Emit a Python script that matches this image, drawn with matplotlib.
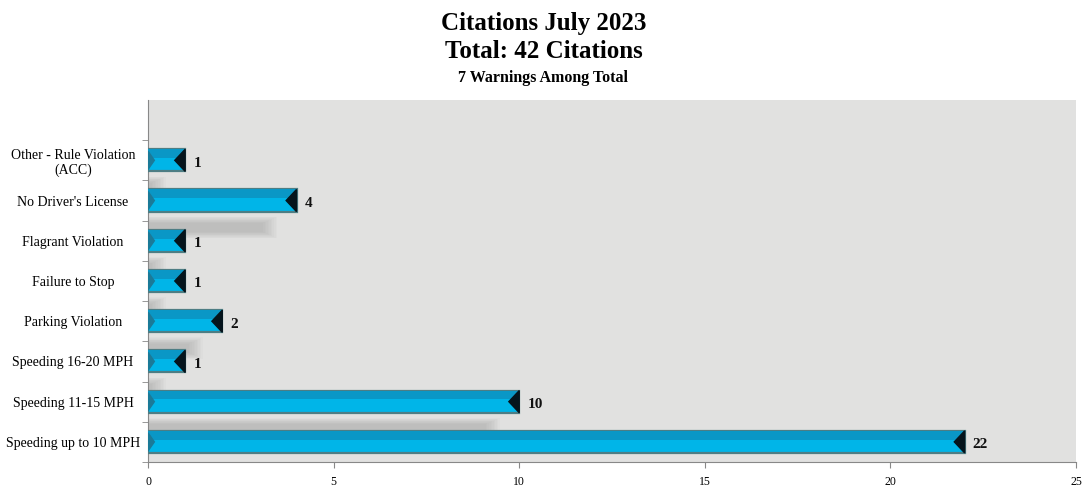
import matplotlib
matplotlib.use("Agg")
import matplotlib.pyplot as plt
from matplotlib.patches import Polygon, Rectangle

categories = ["Speeding up to 10 MPH", "Speeding 11-15 MPH", "Speeding 16-20 MPH",
              "Parking Violation", "Failure to Stop", "Flagrant Violation",
              "No Driver's License", "Other - Rule Violation\n(ACC)"]
counts = [22, 10, 1, 2, 1, 1, 4, 1]
x_ticks = [0, 5, 10, 15, 20, 25]

plt.rcParams["font.family"] = ["Liberation Serif", "DejaVu Serif"]

fig = plt.figure(figsize=(10.87, 4.94), dpi=100)
ax = fig.add_axes([0.1362, 0.0648, 0.8537, 0.7328])
ax.set_facecolor("#e1e1e0")

bar_h = 0.55
ys = list(range(len(categories)))

# soft blurred shadows cast onto the row below (none under the bottom bar)
for y, v in zip(ys[1:], counts[1:]):
    length = max(v - 0.6, 0.4)
    for k in range(10):
        grow = k * 0.035
        ax.add_patch(Rectangle((0, y - 0.78 - grow / 2), length - 0.3 + grow * 1.2,
                               0.22 + grow, color="#8a8a8a", alpha=0.045,
                               lw=0, zorder=1))

ax.barh(ys, counts, height=bar_h, color="#00b5e8", edgecolor="#4d7d84",
        linewidth=1.6, zorder=3)
ax.barh([y + bar_h * 0.3 for y in ys], counts, height=bar_h * 0.4, color="#0a97c6",
        linewidth=0, zorder=3)

tip = 0.28
lft = 0.17
for y, v in zip(ys, counts):
    ax.add_patch(Polygon([(v, y - bar_h / 2), (v, y + bar_h / 2), (v - tip, y)],
                         closed=True, color="#05141c", zorder=4))
    ax.add_patch(Polygon([(0, y - bar_h / 2 + 0.05), (0, y + bar_h / 2 - 0.05), (lft, y)],
                         closed=True, color="#1b7a98", zorder=4))
    ax.text(v + 0.22, y - 0.07, str(v), ha="left", va="center", fontsize=11,
            fontweight="bold", color="#111111", zorder=5)

ax.set_xlim(0, 25)
ax.set_ylim(-0.5, len(categories) + 0.5)
ax.set_xticks(x_ticks)
ax.set_xticklabels([str(t) for t in x_ticks], fontsize=8.5)
ax.set_yticks(ys)
ax.set_yticklabels(categories, fontsize=10, ha="center")
ax.tick_params(axis="y", length=0, pad=54)
ax.set_yticks([y + 0.5 for y in range(-1, len(categories))], minor=True)
ax.tick_params(axis="y", which="minor", length=4, color="#888888")
ax.tick_params(axis="x", length=4, color="#888888", pad=6)

for s in ["top", "right"]:
    ax.spines[s].set_visible(False)
for s in ["left", "bottom"]:
    ax.spines[s].set_color("#888888")

fig.text(0.5, 0.953, "Citations July 2023", ha="center", va="center",
         fontsize=18, fontweight="bold")
fig.text(0.5, 0.895, "Total: 42 Citations", ha="center", va="center",
         fontsize=18, fontweight="bold")
fig.text(0.5, 0.843, "7 Warnings Among Total", ha="center", va="center",
         fontsize=11.5, fontweight="bold")

fig.savefig("out.png", dpi=100, facecolor="white")
